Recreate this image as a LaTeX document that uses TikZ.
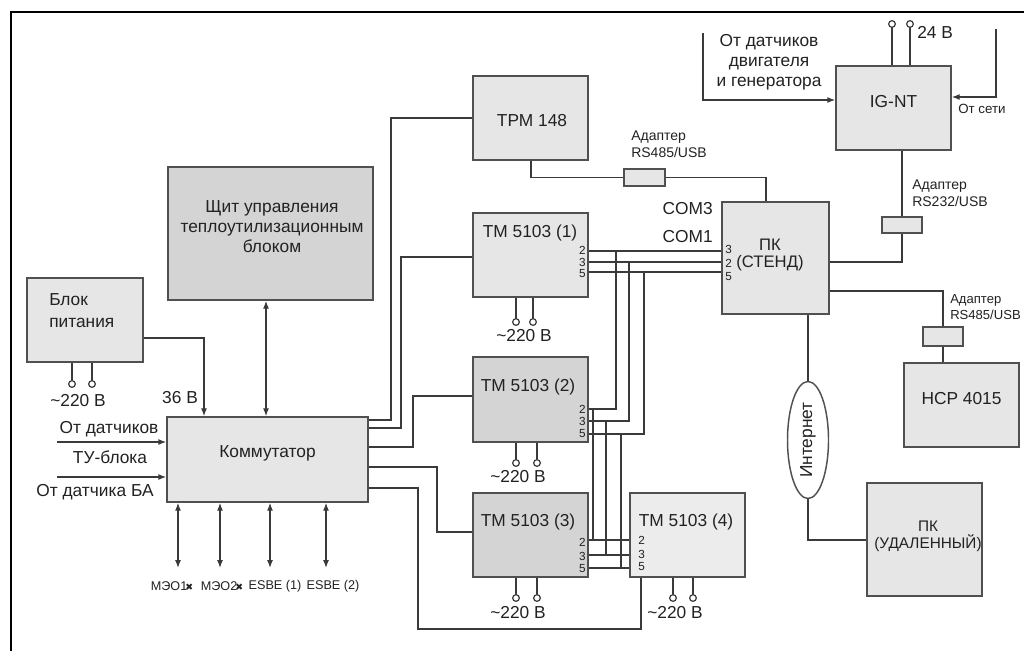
\documentclass[tikz,border=0pt]{standalone}
\usepackage{fontspec}
\setmainfont{Liberation Sans}
\newfontfamily\symf{DejaVu Sans}
\usetikzlibrary{fit,arrows.meta,shapes.geometric}
\definecolor{bordc}{HTML}{505050}
\definecolor{lightf}{HTML}{E6E6E6}
\definecolor{darkf}{HTML}{D4D4D4}
\definecolor{palef}{HTML}{ECECEC}
\definecolor{wirec}{HTML}{3A3A3A}
\definecolor{textc}{HTML}{222222}
\newcommand\pwrterm[4]{\draw[wire] (#1 -| #2,0) -- (#2,#3#4); \draw[term] (#2,#3) circle (2.5pt);}
\begin{document}
\begin{tikzpicture}[x=0.75pt,y=-0.75pt,
 wire/.style={draw=wirec, line width=0.9pt},
 arr/.style={wire, -{Latex[length=6pt,width=4.5pt]}},
 biarr/.style={wire, {Latex[length=6pt,width=4.5pt]}-{Latex[length=6pt,width=4.5pt]}},
 boxl/.style={draw=bordc, line width=1.1pt, fill=lightf, inner sep=0pt, fit={#1}},
 boxd/.style={boxl={#1}, fill=darkf},
 boxp/.style={boxl={#1}, fill=palef},
 txt/.style={font=\fontsize{13}{15}\selectfont, text=textc, inner sep=0pt},
 smt/.style={font=\fontsize{10.5}{12.5}\selectfont, text=textc, inner sep=0pt, align=left},
 lbl/.style={font=\fontsize{9.5}{10}\selectfont, text=textc, inner sep=0pt},
 pin/.style={font=\fontsize{8.8}{9}\selectfont, text=textc, inner sep=0pt},
 term/.style={draw=wirec, line width=0.9pt, fill=white},
]
\useasboundingbox (0,0) rectangle (1024,651);
\fill[white] (0,0) rectangle (1024,651);
\draw[line width=1.3pt, black] (11,651) -- (11,12) -- (1024,12);

% boxes
\node[boxd={(168,167)(373,300)}] (shchit) {};
\node[txt, align=center] (shchitt) at (272,227) {Щит управления\\теплоутилизационным\\блоком};
\node[boxl={(27,278)(143,362)}] (blok) {};
\node[txt, align=left, anchor=west, font=\fontsize{13}{16.5}\selectfont] (blokt) at (49,311) {Блок\\питания};
\node[boxl={(167,417)(368,502)}, txt] (komm) {Коммутатор};
\node[boxl={(473,76)(588,160)}] (trpm) {};
\node[txt] (trpmt) at (532,121) {ТРМ 148};
\node[boxl={(473,213)(588,297)}] (tm1) {};
\node[txt] (tm1t) at (530,233) {ТМ 5103 (1)};
\node[boxd={(473,357)(588,442)}] (tm2) {};
\node[txt] (tm2t) at (528,387) {ТМ 5103 (2)};
\node[boxd={(473,493)(588,577)}] (tm3) {};
\node[txt] (tm3t) at (528,522) {ТМ 5103 (3)};
\node[boxp={(630,493)(745,577)}] (tm4) {};
\node[txt] (tm4t) at (686,522) {ТМ 5103 (4)};
\node[boxl={(722,202)(829,314)}] (pk) {};
\node[txt, align=center, font=\fontsize{12.5}{13}\selectfont] (pkt) at (770,255) {ПК\\(СТЕНД)};
\node[boxl={(836,66)(951,150)}, txt] (ignt) {IG-NT};
\node[boxl={(904,363)(1019,447)}, txt] (hcp) {HCP 4015};
\node[boxl={(867,483)(982,596)}] (pkr) {};
\node[txt, align=center, font=\fontsize{11.5}{12.5}\selectfont] (pkrt) at (928,536) {ПК\\(УДАЛЕННЫЙ)};
\node[boxl={(624,169)(665,186)}] (ad1) {};
\node[boxl={(882,217)(922,233)}] (ad2) {};
\node[boxl={(923,327)(963,346)}] (ad3) {};
\node[draw=bordc, line width=1.1pt, fill=white, ellipse, minimum width=41*0.75pt, minimum height=117*0.75pt, inner sep=0pt] (inet) at (808,440) {};
\node[txt, rotate=90] (inett) at (808,440) {Интернет};

% power terminals
\pwrterm{blok.south}{72}{384}{-3}
\pwrterm{blok.south}{92}{384}{-3}
\pwrterm{tm1.south}{516}{322}{-3}
\pwrterm{tm1.south}{533}{322}{-3}
\pwrterm{tm2.south}{516}{463}{-3}
\pwrterm{tm2.south}{537}{463}{-3}
\pwrterm{tm3.south}{516}{598}{-3}
\pwrterm{tm3.south}{537}{598}{-3}
\pwrterm{tm4.south}{673}{598}{-3}
\pwrterm{tm4.south}{693}{598}{-3}
\pwrterm{ignt.north}{892}{24}{+3}
\pwrterm{ignt.north}{910}{24}{+3}

\node[txt] (vb) at (78,401) {\textasciitilde220 В};
\node[txt] (v1) at (524,336) {\textasciitilde220 В};
\node[txt] (v2) at (518,477) {\textasciitilde220 В};
\node[txt] (v3) at (518,613) {\textasciitilde220 В};
\node[txt] (v4) at (675,613) {\textasciitilde220 В};
\node[txt, anchor=west] (v24) at (917,32) {24 В};
\node[txt] (v36) at (180,398) {36 В};

% Komm connections
\draw[arr] (blok.east |- 0,338) -| (komm.north -| 204,0);
\draw[biarr] (shchit.south -| 266,0) -- (komm.north -| 266,0);
\coordinate (in1) at (57,442);
\coordinate (in2) at (57,477);
\draw[arr] (in1) -- (komm.west |- in1);
\draw[arr] (in2) -- (komm.west |- in2);
\node[txt] (in1t) at (109,429) {От датчиков};
\node[txt] (in1b) at (110,457) {ТУ-блока};
\node[txt] (in2t) at (95,492) {От датчика БА};
\foreach \x/\n in {178/m1,220/m2,270/m3,326/m4} {
  \coordinate (\n) at (\x,568);
  \draw[biarr] (komm.south -| \n) -- (\n);
}
\node[lbl] (m1t) at (172,586) {МЭО1\kern-1.5pt{\symf\fontsize{7}{7}\selectfont ✖}};
\node[lbl] (m2t) at (222,586) {МЭО2\kern-1.5pt{\symf\fontsize{7}{7}\selectfont ✖}};
\node[lbl] (m3t) at (275,586) {ESBE (1)};
\node[lbl] (m4t) at (333,586) {ESBE (2)};

\draw[wire] (komm.east |- 0,420) -| (391,118) -- (trpm.west |- 0,118);
\draw[wire] (komm.east |- 0,428) -| (401,257) -- (tm1.west |- 0,257);
\draw[wire] (komm.east |- 0,447) -| (413,396) -- (tm2.west |- 0,396);
\draw[wire] (komm.east |- 0,467) -| (437,532) -- (tm3.west |- 0,532);
\draw[wire] (komm.east |- 0,488) -| (418,629) -| (tm4.south -| 641,0);

% TRM -> adapter -> PK
\draw[wire] (trpm.south -| 531,0) |- (ad1.west);
\draw[wire] (ad1.east) -| (pk.north -| 766,0);
\node[smt, anchor=west] (ad1t) at (631,144) {Адаптер\\RS485/USB};
\node[txt, anchor=east] (com3) at (713,209) {COM3};
\node[txt, anchor=east] (com1) at (713,237) {COM1};

% bus
\foreach \y in {251,262,272} \draw[wire] (tm1.east |- 0,\y) -- (pk.west |- 0,\y);
\draw[wire] (tm2.east |- 0,409) -| (616,251);
\draw[wire] (tm2.east |- 0,421) -| (629,262);
\draw[wire] (tm2.east |- 0,434) -| (644,272);
\draw[wire] (593,409) -- (593,540);
\draw[wire] (606,421) -- (606,555);
\draw[wire] (621,434) -- (621,568);
\foreach \y in {540,555,568} \draw[wire] (tm3.east |- 0,\y) -- (tm4.west |- 0,\y);

% pin labels
\node[pin, anchor=east] at (586,250) {2};
\node[pin, anchor=east] at (586,262) {3};
\node[pin, anchor=east] at (586,274) {5};
\node[pin, anchor=east] at (586,409) {2};
\node[pin, anchor=east] at (586,421) {3};
\node[pin, anchor=east] at (586,434) {5};
\node[pin, anchor=east] at (586,542) {2};
\node[pin, anchor=east] at (586,556) {3};
\node[pin, anchor=east] at (586,569) {5};
\node[pin, anchor=west] at (638,540) {2};
\node[pin, anchor=west] at (638,554) {3};
\node[pin, anchor=west] at (638,567) {5};
\node[pin, anchor=west] at (725,249) {3};
\node[pin, anchor=west] at (725,263) {2};
\node[pin, anchor=west] at (725,277) {5};

% IG-NT
\coordinate (sens) at (703,33);
\coordinate (grid) at (996,29);
\draw[arr] (sens) |- (ignt.west |- 0,100);
\draw[arr] (grid) |- (ignt.east |- 0,97);
\node[txt, align=center] (senst) at (769,62) {От датчиков\\двигателя\\и генератора};
\node[smt, anchor=west, font=\fontsize{10}{12}\selectfont] (gridt) at (958,109) {От сети};
\draw[wire] (ignt.south -| ad2.north) -- (ad2.north);
\draw[wire] (ad2.south) |- (pk.east |- 0,262);
\node[smt, anchor=west] (ad2t) at (912,193) {Адаптер\\RS232/USB};

% HCP
\draw[wire] (pk.east |- 0,291) -| (ad3.north);
\draw[wire] (ad3.south) -- (hcp.north -| ad3.south);
\node[smt, anchor=west, font=\fontsize{9.8}{12}\selectfont] (ad3t) at (950,307) {Адаптер\\RS485/USB};

% Internet
\draw[wire] (pk.south -| inet.north) -- (inet.north);
\draw[wire] (inet.south) |- (pkr.west |- 0,540);
\end{tikzpicture}
\end{document}
